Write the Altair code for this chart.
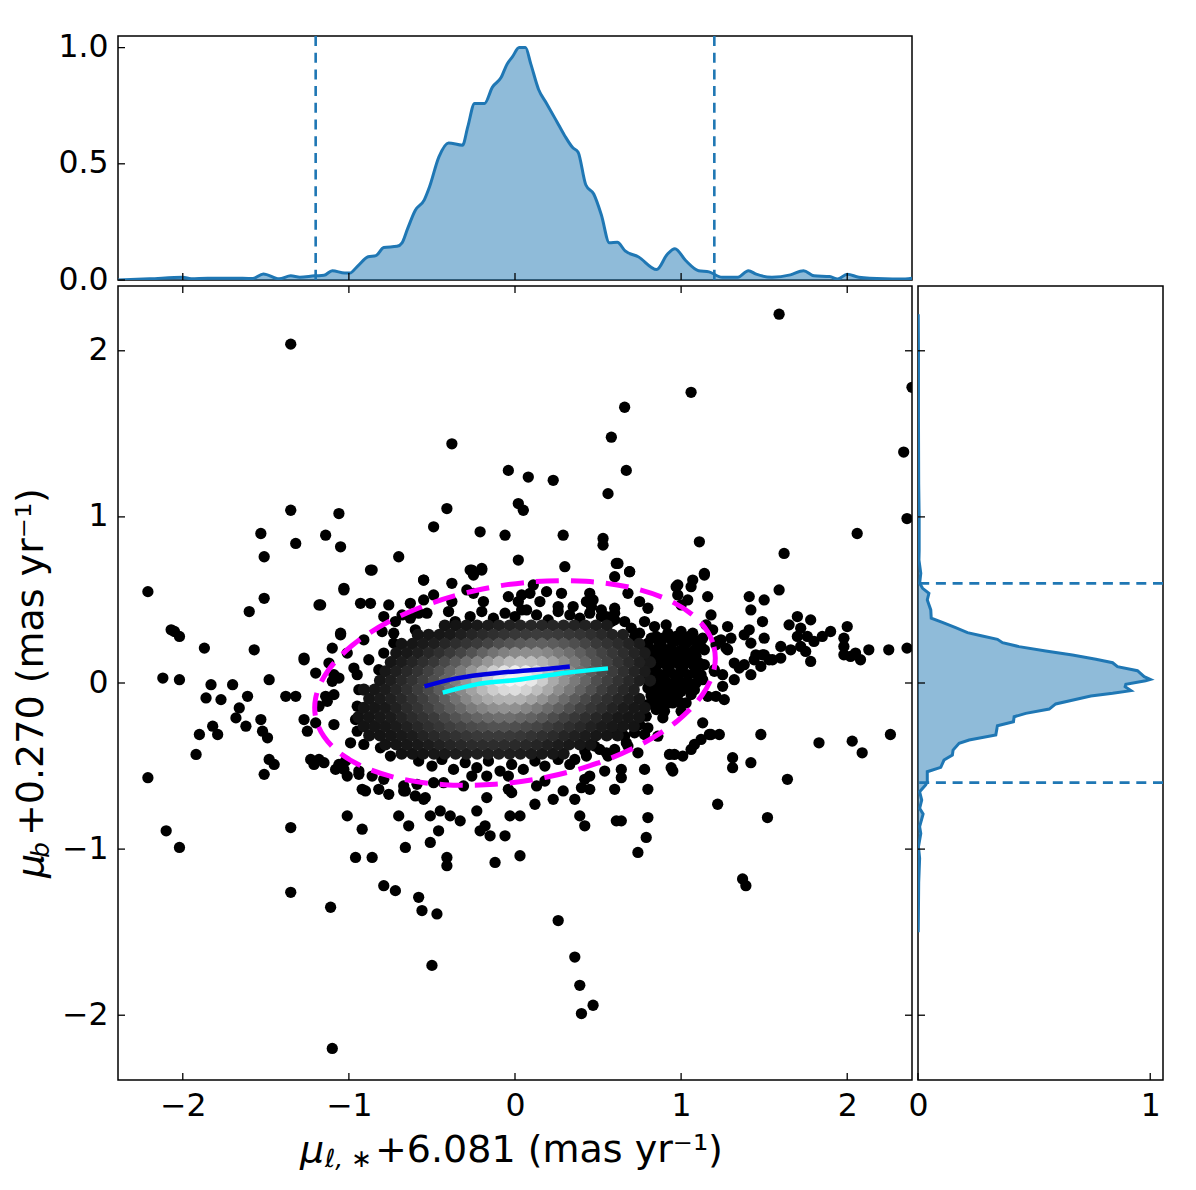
import altair as alt
import pandas as pd

# ---------- outlying stars ----------
far_x = [1.59,-1.35,1.06,2.39,.66,.58,-.38,2.34,.67,-.04,.08,.23,.56,.02,.05,-.41,-1.35,-1.06,-.49,2.36,-1.53,-1.14,-1.32,-1.05,-1.51,-.70,-.21,.29,-.06,.53,.53,1.11,2.06,1.62,-2.21,-1.51,-1.60,-1.18,-1.03,-.86,-.55,-.27,-.20,.02,.30,.61,.69,.98,1.06,1.14,1.59,1.41,1.50,-2.07,-2.05,-2.02,-1.57,-1.87,-1.05,-1.27]
far_y = [2.22,2.04,1.75,1.78,1.66,1.48,1.44,1.39,1.28,1.28,1.24,1.22,1.14,1.08,1.04,1.05,1.04,1.02,.94,.99,.90,.89,.84,.82,.76,.76,.91,.89,.89,.87,.83,.85,.90,.78,.55,.51,.43,.47,.57,.68,.62,.68,.68,.74,.70,.72,.67,.59,.58,.65,.56,.52,.50,.32,.31,.28,.20,.21,.30,.14]
left_x = [-2.12,-2.02,-1.83,-1.70,-1.86,-1.77,-1.48,-1.38,-1.32,-1.61,-1.66,-1.68,-1.82,-1.90,-1.79,-1.62,-1.53,-1.52,-1.49,-1.92,-1.48,-1.45,-1.51,-2.21,-2.10,-2.02,-1.35,-1.35,-1.11,-1.10]
left_y = [.03,.02,-.01,-.01,-.09,-.10,.02,-.08,-.08,-.08,-.15,-.21,-.26,-.31,-.31,-.26,-.22,-.29,-.33,-.43,-.46,-.49,-.55,-.57,-.89,-.99,-.87,-1.26,-1.35,-2.20]
low_x = [-.50,.26,.36,.39,.40,.47,-.56,-.47,-.58,-.79,-.72,1.37,1.39,-.96,-.86,-.66,-.51,-.41,-.41,-.12,.03,.74,.61,.64,.79,.80,1.52,1.22,1.64,1.83,2.03,2.09,2.26,1.48,1.31,1.31,1.42,-1.01,-.92,-.92,-.66,-.60,-.55,-.51,-.45,-.39,-.33,-.23,-.18,-.15,-.06,-.21,-.03,.03,.12,.23,.36,.39,.45,.42,.60,.80,.78,.96,1.08,1.17,1.23,-.94,-.82,-.76,-1.03,-1.18,-1.06,-.70,-.64,-.46]
low_y = [-1.70,-1.43,-1.65,-1.82,-1.99,-1.94,-1.37,-1.39,-1.29,-1.22,-1.25,-1.18,-1.22,-1.05,-1.05,-.99,-.96,-1.05,-1.10,-1.08,-1.04,-1.02,-.83,-.83,-.93,-.81,-.81,-.73,-.58,-.36,-.35,-.42,-.31,-.31,-.45,-.51,-.48,-.80,-.88,-.64,-.65,-.68,-.70,-.80,-.77,-.80,-.83,-.77,-.86,-.92,-.92,-.89,-.80,-.80,-.73,-.70,-.70,-.80,-.64,-.86,-.64,-.64,-.52,-.43,-.37,-.31,-.31,-.55,-.64,-.67,-.52,-.46,-.49,-.80,-.86,-.89]
right_x = [2.36,2.25,2.13,1.70,1.65,1.72,1.78,1.85,1.76,1.80,1.70,1.90,1.66,1.72,1.75,1.60,2.00,1.98,1.98,2.05,2.02,1.98,2.08,1.78,1.60,1.41,1.42,1.50,1.45,1.50,1.55,1.30,1.35,1.32,1.22,1.27,1.42,1.48,1.25,1.20,1.26,1.32,1.38,1.44,1.49,1.53,1.24,1.38,1.42,1.49]
right_y = [.21,.20,.20,.40,.35,.33,.38,.28,.28,.25,.28,.31,.20,.22,.19,.22,.34,.27,.22,.18,.16,.17,.14,.13,.15,.32,.24,.27,.17,.17,.14,.27,.09,.12,.25,.21,.05,.10,.05,.07,-.10,.02,.11,.14,.17,.14,.26,.29,.44,.37]
ring_x = [-.87,-1.03,-1.17,-.93,-.87,-.55,-.38,-.26,-.20,-.25,.62,.69,.60,1.14,1.07,.97,.98,1.04,1.00,1.16,1.18,1.15,1.19,1.28,1.21,1.28,1.20,1.25,1.21,1.16,1.13,1.18,1.12,1.06,1.01,.93,.94,.95,.64,.64,.78,.86,.80,.78,.84,.91,.75,.68,.60,.60,.45,.43,.47,.28,.19,.11,.09,.04,-.04,.02,.04,.15,.26,.35,.46,.52,-.29,-.25,-.19,-.38,-.40,-.49,-.55,-.63,-.76,-.68,-.79,-.72,-.58,-.53,-.63,-.60,-.80,-.73,-.73,-.79,-.91,-1.05,-1.10,-1.01,-1.27,-1.12,-.97,-.88,-.82,-1.20,-1.09,-1.06,-.95,-1.10,-.94,-1.09,-1.14,-1.13,-.95,-1.18,-1.27,-1.25,-1.20,-1.09,-.96,-.95]
ring_y = [.68,.56,.47,.48,.48,.62,.60,.68,.69,.65,.72,.67,.64,.66,.62,.58,.53,.50,.47,.52,.41,.35,.32,.34,.23,.20,.08,-.02,-.08,-.08,-.24,-.31,-.34,-.40,-.44,-.43,-.51,-.53,-.52,-.57,-.31,-.32,.45,.37,.34,.35,.49,.54,.42,.45,.54,.49,.50,.54,.55,.59,.54,.53,.52,.49,.44,.49,.46,.46,.46,.44,.56,.54,.49,.49,.43,.53,.50,.48,.47,.41,.40,.37,.42,.42,.39,.32,.31,.30,.24,.18,.26,.29,.21,.18,.15,.12,.09,.14,.08,.06,.05,.03,.05,.01,-.04,-.07,-.08,-.11,-.14,-.14,-.22,-.29,-.24,-.25,-.22,-.29]
base_x = [-.99,-.91,-.81,-.75,-1.23,-1.21,-1.15,-1.08,-1.02,-1.01,-.94,-.86,-.79,-.90,-.67,-.67,-.59,-.54,-.49,-.43,-.31,-.26,-.17,-.04,-.04,-.02,-.17,.13,.18,.29,.40,.42,.45,.54,.43,.48,.51,.56,.68,.74,.60,.66,.89,.87,.95,1.03,.79]
base_y = [-.36,-.37,-.39,-.44,-.46,-.49,-.48,-.52,-.47,-.56,-.53,-.56,-.58,-.65,-.62,-.65,-.61,-.69,-.60,-.60,-.62,-.56,-.56,-.56,-.64,-.66,-.69,-.62,-.59,-.65,-.63,-.58,-.56,-.53,-.44,-.38,-.40,-.44,-.38,-.42,-.30,-.32,-.21,-.12,-.12,-.12,-.20]
clump_x = [.85,.92,1.00,1.07,.80,.88,.96,1.04,1.12,.84,.91,.99,1.06,.80,.87,.95,1.03,1.11,.84,.92,1.00,1.08,.80,.88,.97,1.05,1.13,.84,.93,1.00,1.08,.87,.95,.82,.89,.97,1.05,1.13,.86,.94,1.02,1.10,.82,.90,.98,1.06,.85,.93,1.01,1.09,.82,.90,.98,.88,.96,1.04,.86,.94,1.00,1.08,.80,.84,.92,1.00,1.08,1.14,.82,.88,.96,1.02,1.09,.83,.91,.99,1.07,1.14,.84,.88,.96,1.04,1.12,.84,.92,1.01,1.09,.80,.88,.96,1.04,.82,.90,.98,1.06,.84,.92,1.00]
clump_y = [.28,.30,.31,.30,.24,.23,.25,.25,.22,.18,.18,.19,.18,.13,.12,.13,.13,.12,.07,.07,.07,.06,.02,.01,.01,.00,.02,-.04,-.04,-.05,-.04,-.09,-.09,.27,.27,.28,.28,.27,.21,.21,.22,.21,.15,.15,.16,.15,.10,.10,.10,.09,.04,.04,.04,-.01,-.01,-.02,.26,.26,.26,.26,.20,.20,.20,.20,.20,.20,.16,.16,.16,.16,.16,.11,.11,.11,.11,.11,.05,.05,.05,.05,.05,.00,.00,.00,.00,-.03,-.03,-.03,-.03,-.07,-.07,-.07,-.07,-.12,-.12,-.12]
edge_x = [-.27,-.2,-.13,-.06,.0,.07,.13,.2,.26,.33,.39,.45,.52,.58,-.36,-.58,-.5,-.44,-.37,-.3,-.23,-.16,-.09,-.02,.05,.12,.18,.26,.33,.82,.82,.80,.85,.75,.72,.67,.6,.55,.42,.36,.8,.9,1.0,.75,.7,.66,.6,.55,.72]
edge_y = [.40,.43,.39,.42,.40,.44,.41,.38,.43,.41,.39,.42,.40,.37,.37,-.47,-.50,-.46,-.52,-.48,-.51,-.47,-.53,-.49,-.52,-.47,-.50,-.46,-.49,-.02,-.08,-.13,-.16,-.25,-.3,-.36,-.4,-.42,-.41,-.46,-.27,-.17,-.17,.3,.33,.37,.38,.4,.28]

# ---------- dense core: x -> grey level, row by row ----------
row_b = {-.4225:20,-.3575:20,-.2925:22,-.2275:25,-.1625:28,-.0975:31,-.0325:34,.0325:36,.0975:38,.1625:38,.2275:38,.2925:37,.3575:35,.4225:33,.4875:30,.5525:27}
row_c = {-.585:20,-.52:22,-.455:23,-.39:25,-.325:31,-.26:37,-.195:42,-.13:47,-.065:51,0:55,.065:58,.13:60,.195:60,.26:58,.325:55,.39:52,.455:47,.52:41,.585:35,.65:30}
row_d = {-.6825:20,-.6175:22,-.5525:26,-.4875:30,-.4225:38,-.3575:45,-.2925:52,-.2275:58,-.1625:67,-.0975:78,-.0325:85,.0325:90,.0975:95,.1625:96,.2275:92,.2925:86,.3575:78,.4225:68,.4875:57,.5525:50,.6175:43,.6825:35,.7475:27}
row_e = {-.715:21,-.65:24,-.585:30,-.52:39,-.455:47,-.39:57,-.325:68,-.26:82,-.195:98,-.13:114,-.065:128,0:138,.065:142,.13:142,.195:134,.26:122,.325:110,.39:95,.455:80,.52:66,.585:55,.65:45,.715:36,.78:27}
row_f = {-.7475:22,-.6825:28,-.6175:36,-.5525:46,-.4875:55,-.4225:72,-.3575:90,-.2925:110,-.2275:130,-.1625:150,-.0975:170,-.0325:186,.0325:192,.0975:190,.1625:178,.2275:162,.2925:142,.3575:122,.4225:102,.4875:82,.5525:66,.6175:52,.6825:42,.7475:32,.8125:25}
row_g = {-.78:24,-.715:31,-.65:40,-.585:50,-.52:64,-.455:80,-.39:100,-.325:125,-.26:150,-.195:178,-.13:205,-.065:228,0:240,.065:238,.13:222,.195:195,.26:165,.325:138,.39:114,.455:92,.52:74,.585:60,.65:47,.715:36,.78:27}
row_h = {-.8125:23,-.7475:30,-.6825:40,-.6175:50,-.5525:63,-.4875:78,-.4225:100,-.3575:126,-.2925:152,-.2275:178,-.1625:208,-.0975:235,-.0325:244,.0325:242,.0975:232,.1625:205,.2275:170,.2925:146,.3575:122,.4225:100,.4875:78,.5525:63,.6175:50,.6825:40,.7475:30,.8125:24}
row_i = {-.91:20,-.845:23,-.78:28,-.715:37,-.65:47,-.585:60,-.52:74,-.455:92,-.39:114,-.325:138,-.26:162,-.195:185,-.13:205,-.065:218,0:222,.065:210,.13:190,.195:168,.26:142,.325:120,.39:98,.455:80,.52:62,.585:50,.65:40,.715:32}
row_j = {-.8775:22,-.8125:26,-.7475:32,-.6825:40,-.6175:50,-.5525:62,-.4875:76,-.4225:94,-.3575:114,-.2925:135,-.2275:155,-.1625:170,-.0975:178,-.0325:180,.0325:178,.0975:165,.1625:148,.2275:128,.2925:108,.3575:90,.4225:72,.4875:57,.5525:47,.6175:38,.6825:30,.7475:23}
row_k = {-.91:20,-.845:22,-.78:25,-.715:33,-.65:43,-.585:52,-.52:64,-.455:78,-.39:92,-.325:106,-.26:122,-.195:133,-.13:142,-.065:146,0:143,.065:134,.13:122,.195:108,.26:95,.325:80,.39:65,.455:54,.52:45,.585:35,.65:27,.715:23,.78:21}
row_l = {-.9425:19,-.8775:21,-.8125:24,-.7475:27,-.6825:35,-.6175:43,-.5525:50,-.4875:58,-.4225:70,-.3575:82,-.2925:92,-.2275:100,-.1625:106,-.0975:110,-.0325:110,.0325:104,.0975:98,.1625:88,.2275:76,.2925:65,.3575:55,.4225:46,.4875:38,.5525:30,.6175:24,.6825:22,.7475:21}
row_m = {-.91:19,-.845:21,-.78:23,-.715:27,-.65:32,-.585:39,-.52:47,-.455:54,-.39:62,-.325:68,-.26:74,-.195:78,-.13:82,-.065:82,0:78,.065:73,.13:68,.195:60,.26:53,.325:46,.39:40,.455:33,.52:27,.585:24,.65:22,.715:20}
row_n = {-.8775:19,-.8125:20,-.7475:22,-.6825:25,-.6175:28,-.5525:35,-.4875:41,-.4225:46,-.3575:50,-.2925:54,-.2275:57,-.1625:58,-.0975:58,-.0325:57,.0325:55,.0975:51,.1625:47,.2275:43,.2925:37,.3575:32,.4225:27,.4875:23,.5525:21,.6175:19}
row_o = {-.78:19,-.715:21,-.65:23,-.585:25,-.52:28,-.455:33,-.39:37,-.325:40,-.26:43,-.195:44,-.13:45,-.065:44,0:42,.065:40,.13:37,.195:32,.26:28,.325:25,.39:23,.455:20}
row_p = {-.6825:18,-.6175:19,-.5525:21,-.4875:23,-.4225:25,-.3575:28,-.2925:30,-.2275:31,-.1625:31,-.0975:31,-.0325:30,.0325:29,.0975:27,.1625:25,.2275:23,.2925:21}
core_rows = [(.345,row_b),(.29,row_c),(.235,row_d),(.18,row_e),(.125,row_f),(.07,row_g),(.015,row_h),(-.04,row_i),(-.095,row_j),(-.15,row_k),(-.205,row_l),(-.26,row_m),(-.315,row_n),(-.37,row_o),(-.425,row_p)]

# ---------- overlays ----------
ell_x = [1.2,1.19,1.099,.934,.704,.427,.12,-.195,-.496,-.764,-.979,-1.128,-1.2,-1.19,-1.099,-.934,-.704,-.427,-.12,.195,.496,.764,.979,1.128]
ell_y = [.09,.245,.383,.495,.573,.612,.61,.566,.483,.367,.227,.071,-.09,-.245,-.383,-.495,-.573,-.612,-.61,-.566,-.483,-.367,-.227,-.071]
blue_x = [-.545,-.354,-.093,.108,.33]
blue_y = [-.02,.028,.062,.078,.10]
cyan_x = [-.435,-.194,.007,.308,.56]
cyan_y = [-.058,-.002,.018,.062,.088]

# ---------- marginals ----------
top_x = [-2.39,-2.2,-2.0,-1.95,-1.85,-1.7,-1.58,-1.515,-1.42,-1.35,-1.295,-1.206,-1.15,-1.10,-1.025,-.995,-.947,-.884,-.837,-.79,-.71,-.68,-.647,-.6,-.546,-.515,-.458,-.40,-.316,-.284,-.243,-.183,-.136,-.085,-.047,-.016,.025,.063,.095,.142,.19,.253,.3,.347,.38,.426,.474,.52,.568,.616,.663,.742,.853,.916,.963,1.026,1.105,1.168,1.247,1.342,1.405,1.452,1.547,1.658,1.737,1.8,1.895,1.942,2.0,2.07,2.226,2.32,2.39]
top_y = [.0,.005,.012,.005,.008,.008,.006,.026,.005,.018,.012,.018,.02,.04,.03,.03,.06,.10,.105,.14,.145,.16,.22,.30,.345,.40,.53,.59,.58,.66,.76,.76,.83,.87,.93,.96,1.0,1.0,.93,.82,.76,.68,.62,.57,.55,.41,.37,.28,.16,.162,.125,.10,.045,.11,.135,.085,.04,.035,.012,.012,.04,.025,.012,.022,.04,.018,.015,.004,.025,.012,.005,.004,.008]
side_y = [2.22,2.0,1.6,1.2,1.0,.8,.741,.66,.60,.57,.54,.50,.44,.39,.365,.333,.303,.283,.263,.243,.219,.193,.169,.143,.122,.098,.074,.038,.022,.014,-.008,-.022,-.046,-.062,-.078,-.126,-.157,-.183,-.203,-.233,-.257,-.313,-.343,-.363,-.404,-.434,-.464,-.508,-.534,-.594,-.614,-.655,-.705,-.755,-.789,-.865,-.906,-.986,-1.056,-1.2,-1.5]
side_x = [.001,.002,.002,.003,.005,.005,.004,.012,.007,.02,.047,.04,.055,.057,.105,.162,.213,.277,.342,.364,.435,.55,.665,.766,.838,.859,.945,.974,1.0,.98,.895,.892,.917,.838,.744,.593,.565,.464,.414,.411,.342,.335,.22,.177,.151,.148,.112,.098,.04,.04,.033,.007,.016,.007,.022,.007,.012,.002,.007,.003,.001]
cut_x = [-1.2,1.2]
cut_y = [-.6,.6]

x_ticks = [-2,-1,0,1,2]
y_ticks = [-2,-1,0,1,2]
top_ticks = [0,.5,1]
side_ticks = [0,1]
x_title = "+6.081 (mas yr⁻¹)"
y_title = "+0.270 (mas yr⁻¹)"

FONT = "DejaVu Sans"
LABEL = 31.5
TITLE = 38
SUB = 25
TICK = 7
W, H, TH, SW = 794, 794, 244, 245
BLUE = "#1f77b4"

sc_x = alt.Scale(domain=[-2.39, 2.39], nice=False, zero=False)
sc_y = alt.Scale(domain=[-2.39, 2.39], nice=False, zero=False)
sc_ty = alt.Scale(domain=[0, 1.05], nice=False, zero=False)
sc_sx = alt.Scale(domain=[0, 1.055], nice=False, zero=False)

def ax(values, fmt="d"):
    return alt.Axis(values=values, format=fmt, ticks=False, domain=False, grid=False, title=None,
                    labelFont=FONT, labelFontSize=LABEL, labelColor="black", labelPadding=10,
                    labelFlush=False, labelOverlap=False)

def line(xs, ys):
    return pd.DataFrame({"x": xs, "y": ys, "o": range(len(xs))})

# ---- scatter panel ----
outer = pd.DataFrame({
    "x": far_x + left_x + low_x + right_x + ring_x + base_x + clump_x + edge_x,
    "y": far_y + left_y + low_y + right_y + ring_y + base_y + clump_y + edge_y,
})
core = []
for yy, row in core_rows:
    for xx, g in row.items():
        core.append({"x": xx, "y": yy, "g": g, "c": f"#{g:02x}{g:02x}{g:02x}"})
core = pd.DataFrame(core).sort_values("g", kind="stable")

p_outer = alt.Chart(outer).mark_circle(size=127, color="black", opacity=1, clip=True).encode(
    x=alt.X("x:Q", scale=sc_x, axis=ax(x_ticks)),
    y=alt.Y("y:Q", scale=sc_y, axis=ax(y_ticks)),
)
p_core = alt.Chart(core).mark_circle(size=150, opacity=1, clip=True).encode(
    x=alt.X("x:Q", scale=sc_x), y=alt.Y("y:Q", scale=sc_y),
    color=alt.Color("c:N", scale=None),
)
ellipse = alt.Chart(line(ell_x, ell_y)).mark_line(
    interpolate="cardinal-closed", color="#ff00ff", strokeWidth=5, strokeDash=[23, 12]
).encode(x=alt.X("x:Q", scale=sc_x), y=alt.Y("y:Q", scale=sc_y), order="o:Q")
blue = alt.Chart(line(blue_x, blue_y)).mark_line(interpolate="monotone", color="#0000dd", strokeWidth=4.5).encode(
    x=alt.X("x:Q", scale=sc_x), y=alt.Y("y:Q", scale=sc_y), order="o:Q")
cyan = alt.Chart(line(cyan_x, cyan_y)).mark_line(interpolate="monotone", color="#00ffff", strokeWidth=4.5).encode(
    x=alt.X("x:Q", scale=sc_x), y=alt.Y("y:Q", scale=sc_y), order="o:Q")

def xt(ticks, scale, h, top=False):
    d = pd.DataFrame({"t": ticks})
    y0, y1 = (0, TICK) if top else (h, h - TICK)
    return alt.Chart(d).mark_rule(color="black", strokeWidth=1.3).encode(
        x=alt.X("t:Q", scale=scale), y=alt.value(y0), y2=alt.value(y1))

def yt(ticks, scale, w, right=False):
    d = pd.DataFrame({"t": ticks})
    x0, x1 = (w, w - TICK) if right else (0, TICK)
    return alt.Chart(d).mark_rule(color="black", strokeWidth=1.3).encode(
        y=alt.Y("t:Q", scale=scale), x=alt.value(x0), x2=alt.value(x1))

def txt(s, x, y, size, italic=False, angle=0):
    kw = {"fontStyle": "italic"} if italic else {}
    return alt.Chart(pd.DataFrame({"s": [s]})).mark_text(
        font=FONT, fontSize=size, color="black", align="left", baseline="alphabetic", angle=angle, **kw
    ).encode(text="s:N", x=alt.value(x), y=alt.value(y))

main = alt.layer(
    p_outer, p_core, ellipse, blue, cyan,
    xt(x_ticks, sc_x, H), xt(x_ticks, sc_x, H, top=True),
    yt(y_ticks, sc_y, W), yt(y_ticks, sc_y, W, right=True),
    txt("μ", 182, 876, TITLE, italic=True),
    txt("ℓ, ∗", 207, 881, SUB, italic=True),
    txt(x_title, 257, 876, TITLE),
    txt("μ", -75, 592, TITLE, italic=True, angle=270),
    txt("b", -69, 572, SUB, italic=True, angle=270),
    txt(y_title, -75, 550, TITLE, angle=270),
).properties(width=W, height=H)

# ---- top marginal ----
top_df = pd.DataFrame({"x": top_x, "y": top_y})
top_area = alt.Chart(top_df).mark_area(interpolate="monotone", color=BLUE, opacity=.5, clip=True).encode(
    x=alt.X("x:Q", scale=sc_x, axis=None),
    y=alt.Y("y:Q", scale=sc_ty, axis=ax(top_ticks, ".1f")),
)
top_line = alt.Chart(top_df).mark_line(interpolate="monotone", color=BLUE, strokeWidth=3, clip=True).encode(
    x=alt.X("x:Q", scale=sc_x), y=alt.Y("y:Q", scale=sc_ty))
top_cut = alt.Chart(pd.DataFrame({"v": cut_x})).mark_rule(color=BLUE, strokeWidth=2.6, strokeDash=[10, 6.7]).encode(
    x=alt.X("v:Q", scale=sc_x))
top = alt.layer(top_area, top_line, top_cut, xt(x_ticks, sc_x, TH), yt(top_ticks, sc_ty, W)).properties(width=W, height=TH)

# ---- side marginal ----
side_df = pd.DataFrame({"x": side_x, "y": side_y, "o": range(len(side_x))})
side_area = alt.Chart(side_df).mark_area(orient="horizontal", color=BLUE, opacity=.5, clip=True).encode(
    x=alt.X("x:Q", scale=sc_sx, axis=ax(side_ticks), stack=None),
    y=alt.Y("y:Q", scale=sc_y, axis=None),
)
side_line = alt.Chart(side_df).mark_line(color=BLUE, strokeWidth=3, clip=True).encode(
    x=alt.X("x:Q", scale=sc_sx), y=alt.Y("y:Q", scale=sc_y), order="o:Q")
side_cut = alt.Chart(pd.DataFrame({"v": cut_y})).mark_rule(color=BLUE, strokeWidth=2.6, strokeDash=[10, 6.7]).encode(
    y=alt.Y("v:Q", scale=sc_y))
side = alt.layer(side_area, side_line, side_cut, xt(side_ticks, sc_sx, H), yt(y_ticks, sc_y, SW)).properties(width=SW, height=H)

lower = alt.hconcat(main, side, spacing=6, bounds="flush")
chart = alt.vconcat(top, lower, spacing=6, bounds="flush").properties(
    padding={"left": 4, "top": 22, "right": 5, "bottom": 5}
).configure_view(stroke="black", strokeWidth=1.5)

chart.save("out.html", embed_options={"renderer": "svg", "actions": False})
